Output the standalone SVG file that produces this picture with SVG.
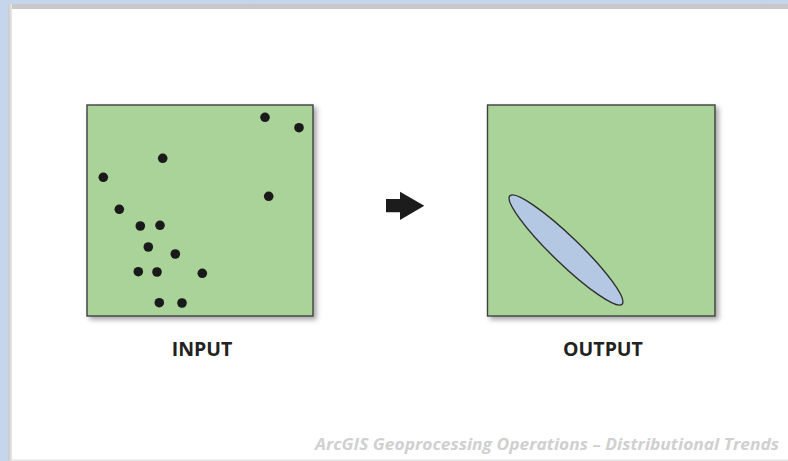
<svg xmlns="http://www.w3.org/2000/svg" width="788" height="461" viewBox="0 0 788 461">
  <defs>
    <filter id="shadow" x="-10%" y="-10%" width="125%" height="125%">
      <feDropShadow dx="3" dy="3" stdDeviation="2.5" flood-color="#000" flood-opacity="0.35"/>
    </filter>
    <linearGradient id="edgeL" x1="0" y1="0" x2="1" y2="0">
      <stop offset="0" stop-color="#c8c8c8"/>
      <stop offset="1" stop-color="#e8e8e8"/>
    </linearGradient>
    <linearGradient id="edgeT" x1="0" y1="0" x2="0" y2="1">
      <stop offset="0" stop-color="#c8c8c8"/>
      <stop offset="1" stop-color="#ececec"/>
    </linearGradient>
  </defs>
  <style>
    .panel { fill: #a9d398; stroke: #3f3f3f; stroke-width: 1.4; }
    .dot { fill: #1a1a1a; }
    .label { font-family: "Open Sans", "Liberation Sans", sans-serif; font-weight: 700; font-size: 19.5px; fill: #222; text-anchor: middle; }
    .credit { font-family: "Open Sans", "Liberation Sans", sans-serif; font-style: italic; font-weight: 700; font-size: 16px; fill: #d0d0d0; }
  </style>

  <!-- background frame -->
  <rect x="0" y="0" width="788" height="461" fill="#c4d5ec"/>
  <rect x="8" y="4" width="780" height="457" fill="url(#edgeT)"/>
  <rect x="8" y="4" width="4" height="457" fill="url(#edgeL)"/>
  <rect x="12" y="9" width="776" height="451" fill="#ffffff"/>
  <rect x="12" y="459.5" width="776" height="1.5" fill="#e4e4e4"/>

  <g id="input">
    <rect class="panel" x="87" y="105" width="226" height="211" filter="url(#shadow)"/>
    <g>
      <circle class="dot" cx="265" cy="117.3" r="4.8"/>
      <circle class="dot" cx="299" cy="127.7" r="4.8"/>
      <circle class="dot" cx="162.7" cy="158.3" r="4.8"/>
      <circle class="dot" cx="103.3" cy="177.3" r="4.8"/>
      <circle class="dot" cx="268.7" cy="196.3" r="4.8"/>
      <circle class="dot" cx="119.3" cy="209.3" r="4.8"/>
      <circle class="dot" cx="140.3" cy="226" r="4.8"/>
      <circle class="dot" cx="160" cy="225.3" r="4.8"/>
      <circle class="dot" cx="148.3" cy="247" r="4.8"/>
      <circle class="dot" cx="175.3" cy="254" r="4.8"/>
      <circle class="dot" cx="138.3" cy="271.7" r="4.8"/>
      <circle class="dot" cx="157" cy="272" r="4.8"/>
      <circle class="dot" cx="202.3" cy="273.3" r="4.8"/>
      <circle class="dot" cx="159.3" cy="302.7" r="4.8"/>
      <circle class="dot" cx="182" cy="303" r="4.8"/>
    </g>
    <text class="label" x="202" y="356">INPUT</text>
  </g>

  <g id="output">
    <rect class="panel" x="487.5" y="105" width="227.5" height="211" filter="url(#shadow)"/>
    <ellipse cx="566" cy="250" rx="78" ry="13.5" transform="rotate(44 566 250)" fill="#b5c8e3" stroke="#2e2e2e" stroke-width="1.4"/>
    <text class="label" x="603" y="356">OUTPUT</text>
  </g>

  <g id="connectors">
    <polygon points="386,199 400,199 400,191.7 424.3,205.8 400,220 400,212.3 386,212.3" fill="#1c1c1c"/>
  </g>

  <text class="credit" x="315" y="449.5" textLength="464" lengthAdjust="spacingAndGlyphs">ArcGIS Geoprocessing Operations – Distributional Trends</text>
</svg>
